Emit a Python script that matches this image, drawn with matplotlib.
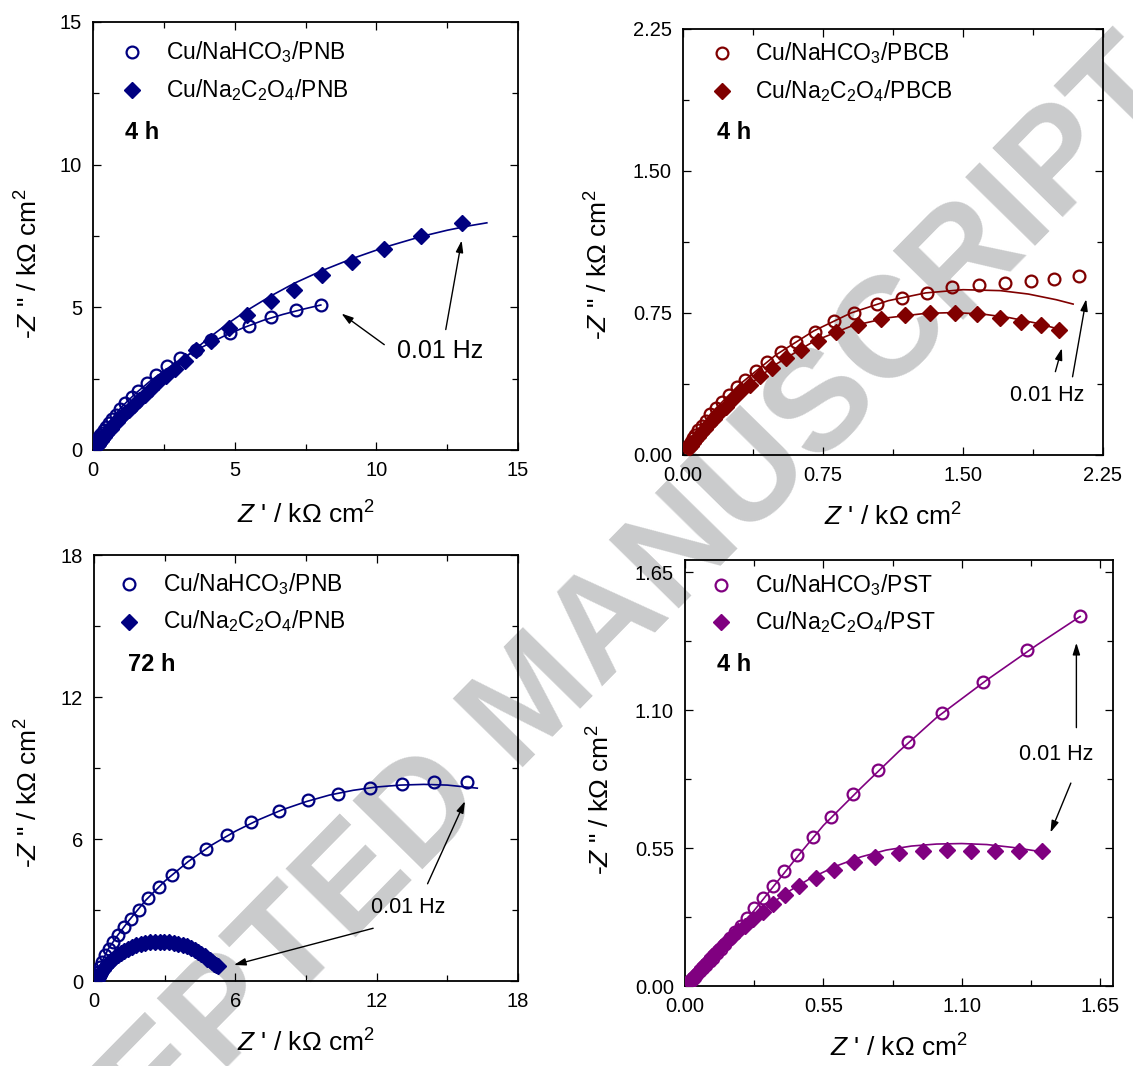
import numpy as np
import matplotlib
matplotlib.use("Agg")
import matplotlib.pyplot as plt
from matplotlib.ticker import MultipleLocator, FormatStrFormatter

plt.rcParams['font.family'] = ['Liberation Sans', 'DejaVu Sans']
plt.rcParams['mathtext.fontset'] = 'custom'
plt.rcParams['mathtext.rm'] = 'Liberation Sans'
plt.rcParams['mathtext.it'] = 'Liberation Sans:italic'
plt.rcParams['mathtext.bf'] = 'Liberation Sans:bold'

# ---- PNB, 4 h ----
nb4_hco3_x = [8.04, 7.15, 6.27, 5.50, 4.82, 4.18, 3.65, 3.06, 2.62, 2.24, 1.89, 1.60, 1.36, 1.13,
              0.95, 0.80, 0.67, 0.56, 0.47, 0.39, 0.32, 0.26, 0.21, 0.17, 0.14, 0.11, 0.09, 0.07, 0.05, 0.04]
nb4_hco3_y = [5.09, 4.92, 4.66, 4.36, 4.10, 3.84, 3.51, 3.23, 2.93, 2.64, 2.36, 2.07, 1.87, 1.63,
              1.42, 1.24, 1.08, 0.94, 0.82, 0.71, 0.61, 0.52, 0.44, 0.37, 0.31, 0.25, 0.20, 0.16, 0.12, 0.08]
nb4_hco3_fit_x = [0.0, 0.1, 0.3, 0.6, 1.0, 1.5, 2.0, 2.6, 3.2, 3.9, 4.6, 5.3, 6.0, 6.7, 7.4, 8.04]
nb4_hco3_fit_y = [0.0, 0.25, 0.60, 1.02, 1.50, 1.98, 2.40, 2.84, 3.24, 3.63, 3.98, 4.28, 4.54, 4.75, 4.93, 5.08]

nb4_oxa_x = [13.02, 11.58, 10.28, 9.13, 8.07, 7.08, 6.27, 5.43, 4.79, 4.17, 3.65, 3.24, 2.89, 2.59,
             2.31, 2.06, 1.83, 1.62, 1.43, 1.26, 1.10, 0.96, 0.83, 0.72, 0.62, 0.53, 0.45, 0.38,
             0.32, 0.27, 0.22, 0.18, 0.15]
nb4_oxa_y = [7.95, 7.49, 7.05, 6.60, 6.13, 5.62, 5.21, 4.73, 4.26, 3.83, 3.50, 3.12, 2.84, 2.60,
             2.37, 2.15, 1.94, 1.75, 1.57, 1.40, 1.25, 1.11, 0.98, 0.86, 0.75, 0.65, 0.56, 0.47,
             0.39, 0.32, 0.25, 0.19, 0.13]
nb4_oxa_fit_x = [0.0, 0.3, 0.7, 1.2, 1.8, 2.5, 3.1, 3.64, 4.17, 4.8, 5.45, 6.28, 7.1, 8.07,
                 9.13, 10.28, 11.58, 12.5, 13.3, 13.9]
nb4_oxa_fit_y = [0.0, 0.38, 0.85, 1.36, 1.95, 2.60, 3.12, 3.56, 3.99, 4.46, 4.90, 5.40, 5.84, 6.28,
                 6.70, 7.10, 7.48, 7.70, 7.86, 7.96]

# ---- PBCB, 4 h ----
bc_hco3_x = [2.123, 1.989, 1.862, 1.724, 1.584, 1.443, 1.305, 1.172, 1.040, 0.917, 0.807, 0.705,
             0.605, 0.526, 0.452, 0.390, 0.333, 0.288, 0.245, 0.208, 0.176, 0.147, 0.122, 0.100,
             0.081, 0.065, 0.052, 0.041, 0.032, 0.025]
bc_hco3_y = [0.943, 0.931, 0.920, 0.910, 0.897, 0.885, 0.858, 0.831, 0.796, 0.752, 0.705, 0.650,
             0.597, 0.546, 0.490, 0.442, 0.398, 0.358, 0.318, 0.280, 0.248, 0.214, 0.182, 0.155,
             0.130, 0.108, 0.088, 0.070, 0.055, 0.042]
bc_hco3_fit_x = [0.0, 0.05, 0.15, 0.3, 0.5, 0.7, 0.9, 1.1, 1.3, 1.5, 1.7, 1.85, 2.0, 2.09]
bc_hco3_fit_y = [0.0, 0.08, 0.22, 0.37, 0.53, 0.655, 0.75, 0.815, 0.856, 0.873, 0.868, 0.85, 0.82, 0.797]

bc_oxa_x = [2.015, 1.919, 1.811, 1.698, 1.575, 1.455, 1.322, 1.192, 1.059, 0.936, 0.822, 0.723,
            0.630, 0.550, 0.477, 0.413, 0.357, 0.308, 0.265, 0.228, 0.195, 0.166, 0.140, 0.118,
            0.098, 0.081, 0.066, 0.053, 0.042, 0.033]
bc_oxa_y = [0.662, 0.684, 0.701, 0.726, 0.742, 0.752, 0.752, 0.737, 0.716, 0.688, 0.648, 0.604,
            0.556, 0.510, 0.462, 0.416, 0.372, 0.330, 0.292, 0.256, 0.222, 0.191, 0.163, 0.138,
            0.115, 0.095, 0.077, 0.061, 0.047, 0.035]
bc_oxa_fit_x = [0.0, 0.1, 0.3, 0.5, 0.7, 0.9, 1.1, 1.3, 1.45, 1.6, 1.75, 1.9, 2.05]
bc_oxa_fit_y = [0.0, 0.12, 0.33, 0.48, 0.60, 0.68, 0.725, 0.748, 0.752, 0.745, 0.725, 0.695, 0.655]

# ---- PNB, 72 h ----
nb72_hco3_x = [15.82, 14.42, 13.07, 11.72, 10.37, 9.09, 7.86, 6.67, 5.65, 4.75, 3.98, 3.32, 2.75,
               2.27, 1.89, 1.55, 1.28, 1.02, 0.80, 0.62, 0.47, 0.35, 0.25, 0.17, 0.11, 0.07]
nb72_hco3_y = [8.42, 8.42, 8.31, 8.17, 7.92, 7.63, 7.20, 6.70, 6.16, 5.59, 5.04, 4.49, 3.96,
               3.49, 3.02, 2.62, 2.30, 1.94, 1.66, 1.37, 1.08, 0.82, 0.58, 0.38, 0.22, 0.10]
nb72_hco3_fit_x = [0.0, 0.1, 0.3, 0.6, 1.0, 1.5, 2.2, 3.0, 4.0, 5.0, 6.0, 7.0, 8.0, 9.0, 10.0,
                   11.0, 12.0, 13.0, 14.0, 15.0, 16.27]
nb72_hco3_fit_y = [0.0, 0.2, 0.75, 1.35, 1.93, 2.58, 3.42, 4.22, 5.05, 5.75, 6.33, 6.82, 7.24, 7.58,
                   7.86, 8.06, 8.20, 8.28, 8.31, 8.28, 8.15]

nb72_oxa_x = [5.26, 5.19, 5.11, 5.02, 4.92, 4.81, 4.69, 4.56, 4.42, 4.27, 4.11, 3.94, 3.76, 3.57,
              3.38, 3.18, 2.98, 2.78, 2.58, 2.38, 2.18, 1.99, 1.80, 1.62, 1.45, 1.29, 1.14, 1.00,
              0.87, 0.75, 0.64, 0.54, 0.45, 0.37, 0.30, 0.24, 0.19, 0.15, 0.12]
nb72_oxa_y = [0.62, 0.67, 0.72, 0.79, 0.87, 0.95, 1.04, 1.13, 1.22, 1.31, 1.39, 1.46, 1.53, 1.58,
              1.62, 1.65, 1.66, 1.66, 1.65, 1.63, 1.60, 1.56, 1.51, 1.45, 1.37, 1.29, 1.20, 1.10,
              1.00, 0.90, 0.79, 0.68, 0.58, 0.48, 0.38, 0.29, 0.20, 0.12, 0.05]
nb72_oxa_fit_x = [0.1, 0.2, 0.5, 1.0, 1.5, 2.0, 2.5, 3.0, 3.5, 4.0, 4.5, 5.0, 5.3]
nb72_oxa_fit_y = [0.0, 0.2, 0.65, 1.12, 1.40, 1.57, 1.65, 1.67, 1.60, 1.45, 1.17, 0.82, 0.60]

# ---- PST, 4 h ----
st_hco3_x = [1.571, 1.360, 1.186, 1.021, 0.886, 0.767, 0.667, 0.581, 0.510, 0.446, 0.393, 0.350,
             0.311, 0.276, 0.246, 0.221, 0.198, 0.178, 0.160, 0.143, 0.127, 0.112, 0.098, 0.085,
             0.072, 0.060, 0.049, 0.039, 0.030, 0.022]
st_hco3_y = [1.473, 1.340, 1.211, 1.087, 0.971, 0.863, 0.764, 0.675, 0.593, 0.521, 0.457, 0.398,
             0.350, 0.310, 0.273, 0.241, 0.214, 0.190, 0.168, 0.148, 0.130, 0.113, 0.098, 0.084,
             0.071, 0.059, 0.048, 0.038, 0.029, 0.021]
st_hco3_fit_x = [0.0, 0.02, 0.07, 0.15, 0.25, 0.35, 0.45, 0.55, 0.7, 0.85, 1.0, 1.2, 1.4, 1.571]
st_hco3_fit_y = [0.0, 0.03, 0.07, 0.155, 0.27, 0.395, 0.52, 0.64, 0.79, 0.935, 1.07, 1.22, 1.36, 1.473]

st_oxa_x = [1.421, 1.326, 1.231, 1.139, 1.040, 0.946, 0.850, 0.757, 0.671, 0.593, 0.519, 0.453,
            0.397, 0.350, 0.310, 0.271, 0.239, 0.210, 0.185, 0.163, 0.143, 0.125, 0.109, 0.094,
            0.080, 0.067, 0.055, 0.044, 0.034, 0.025, 0.017]
st_oxa_y = [0.539, 0.539, 0.539, 0.539, 0.541, 0.539, 0.532, 0.515, 0.495, 0.464, 0.432, 0.400,
            0.364, 0.327, 0.297, 0.269, 0.241, 0.218, 0.195, 0.174, 0.155, 0.136, 0.119, 0.103,
            0.088, 0.074, 0.061, 0.049, 0.038, 0.028, 0.019]
st_oxa_fit_x = [0.0, 0.1, 0.2, 0.3, 0.4, 0.5, 0.6, 0.7, 0.8, 0.9, 1.0, 1.1, 1.2, 1.3, 1.42]
st_oxa_fit_y = [0.0, 0.11, 0.21, 0.295, 0.37, 0.43, 0.478, 0.515, 0.542, 0.558, 0.566, 0.568,
                0.564, 0.553, 0.535]

NAVY = '#000080'
MAROON = '#800000'
PURPLE = '#800080'

XLAB = "$\\mathit{Z}$ ' / kΩ cm$^2$"
YLAB = '-$\\mathit{Z}$ " / kΩ cm$^2$'


def style_axes(ax, lim, major, fmt):
    ax.set_facecolor('none')
    ax.set_xlim(lim)
    ax.set_ylim(lim)
    for a in (ax.xaxis, ax.yaxis):
        a.set_major_locator(MultipleLocator(major))
        a.set_minor_locator(MultipleLocator(major / 2))
        a.set_major_formatter(FormatStrFormatter(fmt))
    ax.tick_params(which='both', direction='in', top=True, right=True, width=0.9,
                   labelsize=14.5, pad=8)
    ax.tick_params(which='major', length=6)
    ax.tick_params(which='minor', length=4.5)
    for s in ax.spines.values():
        s.set_linewidth(1.3)


def legend(ax, color, labels, pos, tag, tagpos):
    mx, tx, y1, y2 = pos
    ax.plot([mx], [y1], 'o', transform=ax.transAxes, ms=8.5, mfc='none', mec=color,
            mew=1.6, clip_on=False)
    ax.plot([mx], [y2], 'D', transform=ax.transAxes, ms=8, color=color, clip_on=False)
    ax.text(tx, y1, labels[0], transform=ax.transAxes, fontsize=16.5, va='center', ha='left')
    ax.text(tx, y2, labels[1], transform=ax.transAxes, fontsize=16.5, va='center', ha='left')
    ax.text(tagpos[0], tagpos[1], tag, transform=ax.transAxes, fontsize=17, fontweight='bold',
            va='center', ha='left')


def arrow(ax, tail, head):
    ax.annotate('', xy=head, xytext=tail,
                arrowprops=dict(arrowstyle='-|>,head_length=0.7,head_width=0.22',
                                color='black', lw=1.0, shrinkA=0, shrinkB=0))


def panel(ax, color, hx, hy, hfx, hfy, ox, oy, ofx, ofy):
    ax.plot(hfx, hfy, '-', color=color, lw=1.2, zorder=2)
    ax.plot(ofx, ofy, '-', color=color, lw=1.2, zorder=2)
    ax.plot(ox, oy, 'D', ls='none', ms=8, color=color, zorder=3)
    ax.plot(hx, hy, 'o', ls='none', ms=8.5, mfc='none', mec=color, mew=1.6, zorder=4)


fig = plt.figure(figsize=(11.33, 10.66), dpi=100)

# watermark, drawn underneath the (transparent) axes
fig.text(0.4722, 0.3405, 'ACCEPTED MANUSCRIPT', fontsize=103, fontweight='bold',
         color='#cacbcc', rotation=45.5, ha='center', va='center', zorder=-1)

ax1 = fig.add_axes([0.0821, 0.5779, 0.3751, 0.4015])
ax2 = fig.add_axes([0.6028, 0.5732, 0.3707, 0.3996])
ax3 = fig.add_axes([0.0830, 0.0797, 0.3742, 0.3996])
ax4 = fig.add_axes([0.6046, 0.0750, 0.3774, 0.4001])

# panel 1
style_axes(ax1, (0, 15), 5, '%d')
panel(ax1, NAVY, nb4_hco3_x, nb4_hco3_y, nb4_hco3_fit_x, nb4_hco3_fit_y,
      nb4_oxa_x, nb4_oxa_y, nb4_oxa_fit_x, nb4_oxa_fit_y)
legend(ax1, NAVY, ['Cu/NaHCO$_3$/PNB', 'Cu/Na$_2$C$_2$O$_4$/PNB'],
       (0.092, 0.172, 0.929, 0.842), '4 h', (0.075, 0.742))
ax1.text(12.25, 3.47, '0.01 Hz', fontsize=18, ha='center', va='center')
arrow(ax1, (10.28, 3.69), (8.77, 4.78))
arrow(ax1, (12.45, 4.22), (13.01, 7.34))

# panel 2
style_axes(ax2, (0, 2.25), 0.75, '%.2f')
panel(ax2, MAROON, bc_hco3_x, bc_hco3_y, bc_hco3_fit_x, bc_hco3_fit_y,
      bc_oxa_x, bc_oxa_y, bc_oxa_fit_x, bc_oxa_fit_y)
legend(ax2, MAROON, ['Cu/NaHCO$_3$/PBCB', 'Cu/Na$_2$C$_2$O$_4$/PBCB'],
       (0.092, 0.171, 0.943, 0.855), '4 h', (0.081, 0.757))
ax2.text(1.952, 0.312, '0.01 Hz', fontsize=15.5, ha='center', va='center')
arrow(ax2, (1.995, 0.44), (2.03, 0.564))
arrow(ax2, (2.087, 0.413), (2.16, 0.823))

# panel 3
style_axes(ax3, (0, 18), 6, '%d')
panel(ax3, NAVY, nb72_hco3_x, nb72_hco3_y, nb72_hco3_fit_x, nb72_hco3_fit_y,
      nb72_oxa_x, nb72_oxa_y, nb72_oxa_fit_x, nb72_oxa_fit_y)
legend(ax3, NAVY, ['Cu/NaHCO$_3$/PNB', 'Cu/Na$_2$C$_2$O$_4$/PNB'],
       (0.082, 0.162, 0.932, 0.844), '72 h', (0.079, 0.744))
ax3.text(13.34, 3.10, '0.01 Hz', fontsize=15.5, ha='center', va='center')
arrow(ax3, (11.85, 2.23), (5.94, 0.68))
arrow(ax3, (14.16, 4.11), (15.75, 7.6))

# panel 4
style_axes(ax4, (0, 1.70), 0.55, '%.2f')
panel(ax4, PURPLE, st_hco3_x, st_hco3_y, st_hco3_fit_x, st_hco3_fit_y,
      st_oxa_x, st_oxa_y, st_oxa_fit_x, st_oxa_fit_y)
legend(ax4, PURPLE, ['Cu/NaHCO$_3$/PST', 'Cu/Na$_2$C$_2$O$_4$/PST'],
       (0.085, 0.164, 0.941, 0.854), '4 h', (0.075, 0.753))
ax4.text(1.477, 0.921, '0.01 Hz', fontsize=15.5, ha='center', va='center')
arrow(ax4, (1.556, 1.03), (1.556, 1.368))
arrow(ax4, (1.534, 0.809), (1.453, 0.612))

label_pos = {ax1: (-0.150, 0.435, -0.153), ax2: (-0.200, 0.446, -0.146),
             ax3: (-0.154, 0.441, -0.145), ax4: (-0.197, 0.437, -0.146)}
for ax, (yx, yy, xy) in label_pos.items():
    ax.set_xlabel(XLAB, fontsize=19, va='center')
    ax.set_ylabel(YLAB, fontsize=19, va='center')
    ax.xaxis.set_label_coords(0.5, xy)
    ax.yaxis.set_label_coords(yx, yy)

fig.savefig('out.png', dpi=100)
